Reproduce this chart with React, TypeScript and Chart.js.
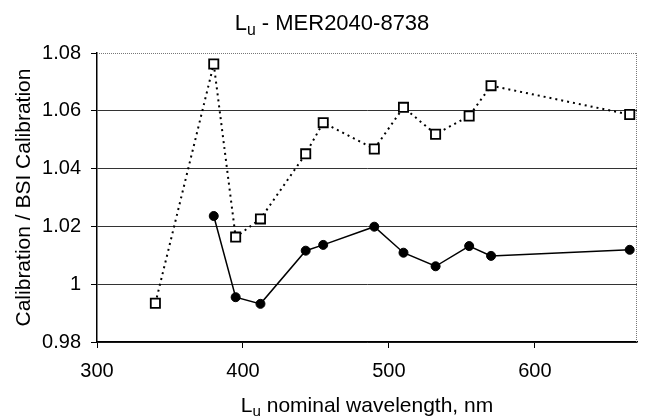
import React, { useEffect, useRef } from "react";
import { Chart, registerables } from "chart.js";

Chart.register(...registerables);

// ---- data ----
const squareWavelengths = [340, 380, 395, 412, 443, 455, 490, 510, 532, 555, 570, 665];
const squareRatios = [0.9934, 1.0762, 1.0163, 1.0226, 1.0451, 1.0559, 1.0468, 1.0612, 1.0519, 1.0582, 1.0687, 1.0587];

const circleWavelengths = [380, 395, 412, 443, 455, 490, 510, 532, 555, 570, 665];
const circleRatios = [1.0236, 0.9955, 0.9932, 1.0116, 1.0136, 1.0199, 1.0109, 1.0062, 1.0132, 1.0098, 1.0119];

const xTickValues = [300, 400, 500, 600];
const yTickValues = [0.98, 1.0, 1.02, 1.04, 1.06, 1.08];
const yTickLabels = ["0.98", "1", "1.02", "1.04", "1.06", "1.08"];

const titleSegments = [
  { text: "L", sub: false },
  { text: "u", sub: true },
  { text: " - MER2040-8738", sub: false },
];
const xTitleSegments = [
  { text: "L", sub: false },
  { text: "u", sub: true },
  { text: " nominal wavelength, nm", sub: false },
];
const yTitleSegments = [{ text: "Calibration / BSI Calibration", sub: false }];

const FONT = '"Liberation Sans", Arial, Helvetica, sans-serif';
const TITLE_SIZE = 22;
const AXIS_TITLE_SIZE = 21;
const TICK_SIZE = 20;

type Seg = { text: string; sub: boolean };

function drawRich(
  ctx: CanvasRenderingContext2D,
  segs: Seg[],
  cx: number,
  cy: number,
  size: number,
  rotate: boolean
) {
  ctx.save();
  ctx.translate(cx, cy);
  if (rotate) ctx.rotate(-Math.PI / 2);
  const subSize = size * 0.72;
  let total = 0;
  const widths = segs.map((s) => {
    ctx.font = `${s.sub ? subSize : size}px ${FONT}`;
    const w = ctx.measureText(s.text).width;
    total += w;
    return w;
  });
  let x = -total / 2;
  ctx.textAlign = "left";
  ctx.textBaseline = "alphabetic";
  ctx.fillStyle = "#000";
  const base = size * 0.36;
  segs.forEach((s, i) => {
    ctx.font = `${s.sub ? subSize : size}px ${FONT}`;
    ctx.fillText(s.text, x, s.sub ? base + size * 0.22 : base);
    x += widths[i];
  });
  ctx.restore();
}

const decorPlugin = {
  id: "decor",
  beforeDatasetsDraw(chart: any) {
    const { ctx, chartArea } = chart;
    const { left, right, top, bottom } = chartArea;
    ctx.save();
    ctx.strokeStyle = "#777";
    ctx.lineWidth = 1;
    ctx.setLineDash([1, 1]);
    ctx.beginPath();
    ctx.moveTo(left, top + 0.5);
    ctx.lineTo(right, top + 0.5);
    ctx.moveTo(right - 0.5, top);
    ctx.lineTo(right - 0.5, bottom);
    ctx.stroke();
    ctx.restore();
  },
  afterDraw(chart: any) {
    const { ctx, chartArea } = chart;
    const { left, right, top, bottom } = chartArea;
    drawRich(ctx, titleSegments, 332, 22, TITLE_SIZE, false);
    drawRich(ctx, xTitleSegments, (left + right) / 2, 404, AXIS_TITLE_SIZE, false);
    drawRich(ctx, yTitleSegments, 22, (top + bottom) / 2, AXIS_TITLE_SIZE, true);
  },
};

export default function App() {
  const canvasRef = useRef<HTMLCanvasElement | null>(null);

  useEffect(() => {
    const canvas = canvasRef.current;
    if (!canvas) return;
    const chart = new Chart(canvas, {
      type: "line",
      data: {
        datasets: [
          {
            label: "Ratio (open squares)",
            data: squareWavelengths.map((w, i) => ({ x: w, y: squareRatios[i] })),
            borderColor: "#000",
            borderWidth: 2,
            borderDash: [2, 4],
            pointStyle: "rect",
            pointRadius: 6.5,
            pointBackgroundColor: "#fff",
            pointBorderColor: "#000",
            pointBorderWidth: 1.8,
            tension: 0,
            fill: false,
          },
          {
            label: "Ratio (filled circles)",
            data: circleWavelengths.map((w, i) => ({ x: w, y: circleRatios[i] })),
            borderColor: "#000",
            borderWidth: 1.5,
            pointStyle: "circle",
            pointRadius: 4.5,
            pointBackgroundColor: "#000",
            pointBorderColor: "#000",
            pointBorderWidth: 1,
            tension: 0,
            fill: false,
          },
        ],
      },
      options: {
        responsive: false,
        animation: false,
        devicePixelRatio: 1,
        layout: { padding: { top: 53, right: 9, bottom: 0, left: 0 } },
        plugins: {
          legend: { display: false },
          tooltip: { enabled: false },
          title: { display: false },
        },
        scales: {
          x: {
            type: "linear",
            min: 300,
            max: 670,
            afterFit: (scale: any) => {
              scale.height = 74;
            },
            afterBuildTicks: (scale: any) => {
              scale.ticks = xTickValues.map((v) => ({ value: v }));
            },
            border: { display: true, color: "#000", width: 1.5 },
            grid: {
              display: true,
              drawOnChartArea: false,
              drawTicks: true,
              tickLength: 6,
              tickColor: "#000",
            },
            ticks: {
              color: "#000",
              font: { family: FONT, size: TICK_SIZE },
              padding: 11,
              maxRotation: 0,
              callback: (v: any) => String(v),
            },
          },
          y: {
            type: "linear",
            min: 0.98,
            max: 1.08,
            afterFit: (scale: any) => {
              scale.width = 97;
            },
            afterBuildTicks: (scale: any) => {
              scale.ticks = yTickValues.map((v) => ({ value: v }));
            },
            border: { display: true, color: "#000", width: 1.5 },
            grid: {
              display: true,
              drawOnChartArea: true,
              drawTicks: true,
              tickLength: 6,
              tickColor: "#000",
              color: (c: any) =>
                c.tick && Math.abs(c.tick.value - 1.08) < 1e-6 ? "rgba(0,0,0,0)" : "#333",
              lineWidth: 1,
            },
            ticks: {
              color: "#000",
              font: { family: FONT, size: TICK_SIZE },
              padding: 10,
              callback: (v: any) => {
                const idx = yTickValues.findIndex((t) => Math.abs(t - Number(v)) < 1e-6);
                return idx >= 0 ? yTickLabels[idx] : "";
              },
            },
          },
        },
      },
      plugins: [decorPlugin],
    } as any);
    return () => chart.destroy();
  }, []);

  return (
    <div style={{ position: "absolute", left: 0, top: 0, width: 646, height: 416, background: "#fff" }}>
      <canvas ref={canvasRef} width={646} height={416} style={{ display: "block" }} />
    </div>
  );
}
